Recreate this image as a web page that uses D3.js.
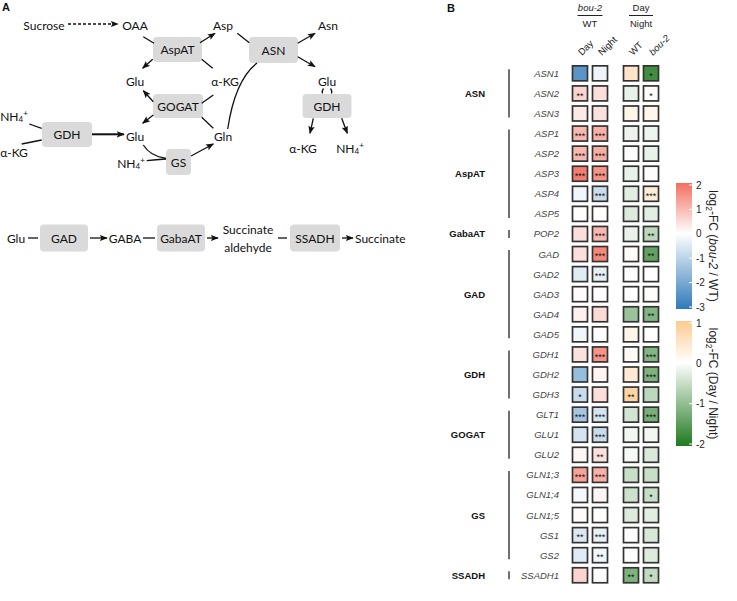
<!DOCTYPE html>
<html><head><meta charset="utf-8">
<script src="https://cdn.jsdelivr.net/npm/d3@7"></script>
<style>body{margin:0;background:#fff}</style>
</head><body><svg id="c" width="737" height="601"></svg>
<script>
// ---------------- DATA ----------------
const genes = ["ASN1","ASN2","ASN3","ASP1","ASP2","ASP3","ASP4","ASP5","POP2","GAD","GAD2","GAD3","GAD4","GAD5","GDH1","GDH2","GDH3","GLT1","GLU1","GLU2","GLN1;3","GLN1;4","GLN1;5","GS1","GS2","SSADH1"];
const geneGroup = ["ASN","ASN","ASN","AspAT","AspAT","AspAT","AspAT","AspAT","GabaAT","GAD","GAD","GAD","GAD","GAD","GDH","GDH","GDH","GOGAT","GOGAT","GOGAT","GS","GS","GS","GS","GS","SSADH"];
const groupNames = ["ASN","AspAT","GabaAT","GAD","GDH","GOGAT","GS","SSADH"];
const colGroups = ["bou2WT","DayNight"];
const colLabels = [["Day","Night"],["WT","bou-2"]];
// log2 FC bou-2 / WT
const fcDay   = [-2.4,0.6,0.3,1.0,1.0,1.8,-0.2,0.02,0.45,0.45,-0.45,0.05,0.2,-0.2,0.4,-1.5,-0.8,-1.3,-0.6,0.12,1.3,-0.15,0.05,-0.5,-0.45,0.6];
const fcNight = [-0.25,0.45,0.4,1.1,1.15,1.5,-0.8,0.02,1.0,1.65,-0.35,0.03,0.5,0.03,1.5,0.15,0.45,-0.6,-0.8,0.4,1.1,0.12,0.02,-0.35,-0.2,0.03];
// log2 FC Day / Night
const dnWT  = [0.5,-0.2,0.2,-0.16,-0.03,-0.2,-0.25,-0.3,-0.2,0.07,-0.04,0.0,-0.9,0.2,0.1,0.4,0.8,-0.4,-0.12,-0.08,-0.5,-0.45,-0.3,-0.02,-0.02,-1.15];
const dnBou = [-1.7,0.05,0.15,-0.15,-0.2,-0.03,0.35,-0.25,-0.6,-1.4,0.0,0.05,-1.1,0.0,-1.1,-1.15,-0.6,-1.2,-0.12,-0.33,-0.5,-0.5,-0.25,-0.35,-0.3,-0.55];
const sigDay   = ["","**","","***","***","***","","","","","","","","","","","*","***","","","***","","","**","",""];
const sigNight = ["","","","***","***","***","***","","***","***","***","","","","***","","","***","***","**","***","","","***","**",""];
const sigWT    = ["","","","","","","","","","","","","","","","","**","","","","","","","","","**"];
const sigBou   = ["*","*","","","","","***","","**","**","","","**","","***","***","","***","","","","*","","","","*"];
const ticksFC = [2,1,0,-1,-2,-3];
const ticksDN = [1,0,-1,-2];

// ---------------- SETUP ----------------
const svg = d3.select("#c");
const defs = svg.append("defs");
defs.append("marker").attr("id","ah").attr("viewBox","0 0 10 10").attr("refX",9).attr("refY",5)
  .attr("markerUnits","userSpaceOnUse").attr("markerWidth",8).attr("markerHeight",8).attr("orient","auto")
  .append("path").attr("d","M0,1 L10,5 L0,9 L2,5 Z").attr("fill","#111");

// ---------------- PANEL A ----------------
const A = svg.append("g").attr("font-family","Lato, 'Open Sans', sans-serif").attr("font-size",12).attr("fill","#111");
A.append("text").attr("x",2).attr("y",11).attr("font-family","'Liberation Sans', Arial, sans-serif").attr("font-weight","bold").attr("font-size",11).text("A");

function lbl(x,y,s){ return A.append("text").attr("x",x).attr("y",y).attr("text-anchor","middle").attr("dominant-baseline","central").text(s); }
function nh4(x,y){
  const t = A.append("text").attr("x",x).attr("y",y).attr("text-anchor","middle").attr("dominant-baseline","central");
  t.append("tspan").text("NH");
  t.append("tspan").attr("font-size",8).attr("dy",2.5).text("4");
  t.append("tspan").attr("font-size",8).attr("dy",-6).text("+");
}
function box(cx,cy,w,h,s){
  A.append("rect").attr("x",cx-w/2).attr("y",cy-h/2).attr("width",w).attr("height",h).attr("rx",4).attr("fill","#dadada");
  lbl(cx,cy,s);
}
function ln(x1,y1,x2,y2,arrow,sw){
  const l = A.append("line").attr("x1",x1).attr("y1",y1).attr("x2",x2).attr("y2",y2).attr("stroke","#111").attr("stroke-width",sw||1.3);
  if(arrow) l.attr("marker-end","url(#ah)");
  return l;
}
function pth(d,arrow){
  const p = A.append("path").attr("d",d).attr("fill","none").attr("stroke","#111").attr("stroke-width",1.3);
  if(arrow) p.attr("marker-end","url(#ah)");
}

lbl(44,25,"Sucrose"); lbl(135,25,"OAA"); lbl(223,25,"Asp"); lbl(328,25,"Asn");
lbl(135,81,"Glu"); lbl(225,81,"α-KG"); lbl(327,81,"Glu");
nh4(14,116); lbl(14,152,"α-KG");
lbl(135,136,"Glu"); lbl(223,136,"Gln");
nh4(131,163);
lbl(303,148,"α-KG"); nh4(350,148);

box(177.5,49.5,49,25,"AspAT");
box(273.5,50,49,26,"ASN");
box(178,106,50,24,"GOGAT");
box(327,106,49,24,"GDH");
box(67,134.5,50,25,"GDH");
box(178.5,162,25,26,"GS");

ln(68,24,118,24,true).attr("stroke-dasharray","3,2");
ln(143.3,36.7,154,43.3);
ln(200,42.7,215,33.3,true);
ln(152.7,59.3,142.7,68.3,true);
ln(212.7,68.3,201.7,59.3);
ln(237.3,33.3,249.3,42.7);
ln(297.7,43.3,315,33.3,true);
ln(297.7,56.7,315,66.7,true);
ln(153.3,101.7,143.3,90.7,true);
ln(213.3,95,201.7,103.3);
ln(153.3,115,142.7,123.3,true);
ln(213.3,128.3,201.7,117.3);
ln(29.3,124,41.7,128.3);
ln(21.7,144,41.7,140);
ln(92,134.3,124,134.3,true,2);
pth("M143.3,145 Q150,156 166,158.5");
pth("M146.7,160.7 Q156,159.5 166,159");
ln(191,156,213.3,144,true);
pth("M227.7,129 Q235,80 257,63");
pth("M323.5,88.5 Q321.5,91 322.5,93.5");
pth("M330.5,88.5 Q332.5,91 331.5,93.5");
ln(313.3,118.3,310,133.3,true);
ln(341.7,118.3,347.3,133.3,true);

// bottom pathway
const yb = 238;
lbl(16,yb,"Glu"); ln(28,yb,38,yb);
box(64,yb,48,27,"GAD"); ln(90,yb,107,yb,true);
lbl(125,yb,"GABA"); ln(143,yb,155,yb);
box(181,yb,48,27,"GabaAT"); ln(207,yb,218,yb,true);
lbl(248,yb-9,"Succinate"); lbl(248,yb+9,"aldehyde");
ln(278,yb,287,yb);
box(315,yb,50,27,"SSADH"); ln(342,yb,353,yb,true);
A.append("text").attr("x",355).attr("y",yb).attr("dominant-baseline","central").text("Succinate");

// ---------------- PANEL B ----------------
const B = svg.append("g").attr("font-family","'Liberation Sans', Arial, sans-serif").attr("fill","#222");
B.append("text").attr("x",447).attr("y",12).attr("font-weight","bold").attr("font-size",11).attr("fill","#111").text("B");

const y = d3.scaleBand().domain(genes).range([63.3,585.3]);
const xOuter = d3.scaleBand().domain(colGroups).range([570,661]).paddingInner(11/51);
const xInner = d3.scaleBand().domain([0,1]).range([0,xOuter.bandwidth()]);
const colorFC = d3.scaleLinear().domain([-3,0,2]).range(["#2f7ab9","#ffffff","#f2705f"]).clamp(true);
const colorDN = d3.scaleLinear().domain([-2,0,1]).range(["#1f7a1f","#ffffff","#fdcb8e"]).clamp(true);

const columns = [
  {g:"bou2WT",i:0,vals:fcDay,sig:sigDay,col:colorFC},
  {g:"bou2WT",i:1,vals:fcNight,sig:sigNight,col:colorFC},
  {g:"DayNight",i:0,vals:dnWT,sig:sigWT,col:colorDN},
  {g:"DayNight",i:1,vals:dnBou,sig:sigBou,col:colorDN}
];
const cs = 15;
columns.forEach(c=>{
  const cx = xOuter(c.g)+xInner(c.i)+xInner.bandwidth()/2;
  genes.forEach((gname,k)=>{
    const cy = y(gname)+y.bandwidth()/2;
    B.append("rect").attr("x",cx-cs/2).attr("y",cy-cs/2).attr("width",cs).attr("height",cs)
      .attr("fill",c.col(c.vals[k])).attr("stroke","#333").attr("stroke-width",1.7);
    if(c.sig[k]) B.append("text").attr("x",cx).attr("y",cy+5.2).attr("text-anchor","middle")
      .attr("font-size",9).attr("fill","#111").text(c.sig[k]);
  });
});

// column headers
colGroups.forEach((g,gi)=>{
  const cx = xOuter(g)+xOuter.bandwidth()/2;
  const top = B.append("text").attr("x",cx).attr("y",11).attr("text-anchor","middle").attr("font-size",9.5);
  const bot = B.append("text").attr("x",cx).attr("y",27).attr("text-anchor","middle").attr("font-size",9.5);
  if(gi===0){ top.attr("font-style","italic").text("bou-2"); bot.text("WT"); }
  else { top.text("Day"); bot.text("Night"); }
  const hw = gi===0 ? 12.5 : 12;
  B.append("line").attr("x1",cx-hw).attr("x2",cx+hw).attr("y1",15.5).attr("y2",15.5).attr("stroke","#222").attr("stroke-width",1);
  colLabels[gi].forEach((s,i)=>{
    const x = xOuter(g)+xInner(i)+xInner.bandwidth()/2+2;
    B.append("text").attr("transform",`translate(${x},56) rotate(-45)`).attr("font-size",9.5)
      .attr("font-style", s==="bou-2" ? "italic" : "normal").text(s);
  });
});

// gene labels
genes.forEach(gname=>{
  B.append("text").attr("x",559).attr("y",y(gname)+y.bandwidth()/2).attr("dominant-baseline","central")
    .attr("text-anchor","end").attr("font-style","italic").attr("font-size",9.5).attr("fill","#444").text(gname);
});
// group labels and brackets
groupNames.forEach(gn=>{
  const idx = genes.filter((g,k)=>geneGroup[k]===gn);
  const y0 = y(idx[0])+y.bandwidth()/2, y1 = y(idx[idx.length-1])+y.bandwidth()/2;
  B.append("line").attr("x1",509).attr("x2",509).attr("y1",y0-4).attr("y2",y1+4).attr("stroke","#222").attr("stroke-width",1.3);
  B.append("text").attr("x",485).attr("y",(y0+y1)/2).attr("dominant-baseline","central").attr("text-anchor","end")
    .attr("font-weight","bold").attr("font-size",9.5).attr("fill","#111").text(gn);
});

// colour bars
function colorbar(id,scale,ticks,y0,y1,titleParts){
  const ys = d3.scaleLinear().domain([ticks[0],ticks[ticks.length-1]]).range([y0,y1]);
  const grad = defs.append("linearGradient").attr("id",id).attr("x1",0).attr("x2",0).attr("y1",0).attr("y2",1);
  const dm = scale.domain();
  const lo = d3.min(dm), hi = d3.max(dm);
  [hi,0,lo].forEach(v=>{
    grad.append("stop").attr("offset",(hi-v)/(hi-lo)).attr("stop-color",scale(v));
  });
  B.append("rect").attr("x",676).attr("y",y0-2).attr("width",16).attr("height",y1-y0+4).attr("fill",`url(#${id})`);
  ticks.forEach(t=>{
    B.append("line").attr("x1",689).attr("x2",692).attr("y1",ys(t)).attr("y2",ys(t)).attr("stroke","#fff").attr("stroke-width",1);
    B.append("text").attr("x",696).attr("y",ys(t)).attr("dominant-baseline","central").attr("font-size",10).attr("fill","#222").text(t);
  });
  const t = B.append("text").attr("transform",`translate(709,${(y0+y1)/2}) rotate(90)`).attr("text-anchor","middle")
    .attr("font-size",12).attr("fill","#222");
  t.append("tspan").text("log");
  t.append("tspan").attr("font-size",8.5).attr("dy",3).text("2");
  titleParts.forEach((p,i)=>{
    const ts = t.append("tspan").text(p.s);
    if(i===0) ts.attr("dy",-3);
    if(p.it) ts.attr("font-style","italic");
  });
}
colorbar("gFC",colorFC,ticksFC,185,307,[{s:"-FC ("},{s:"bou-2",it:true},{s:" / WT)"}]);
colorbar("gDN",colorDN,ticksDN,323,444,[{s:"-FC (Day / Night)"}]);
</script></body></html>
